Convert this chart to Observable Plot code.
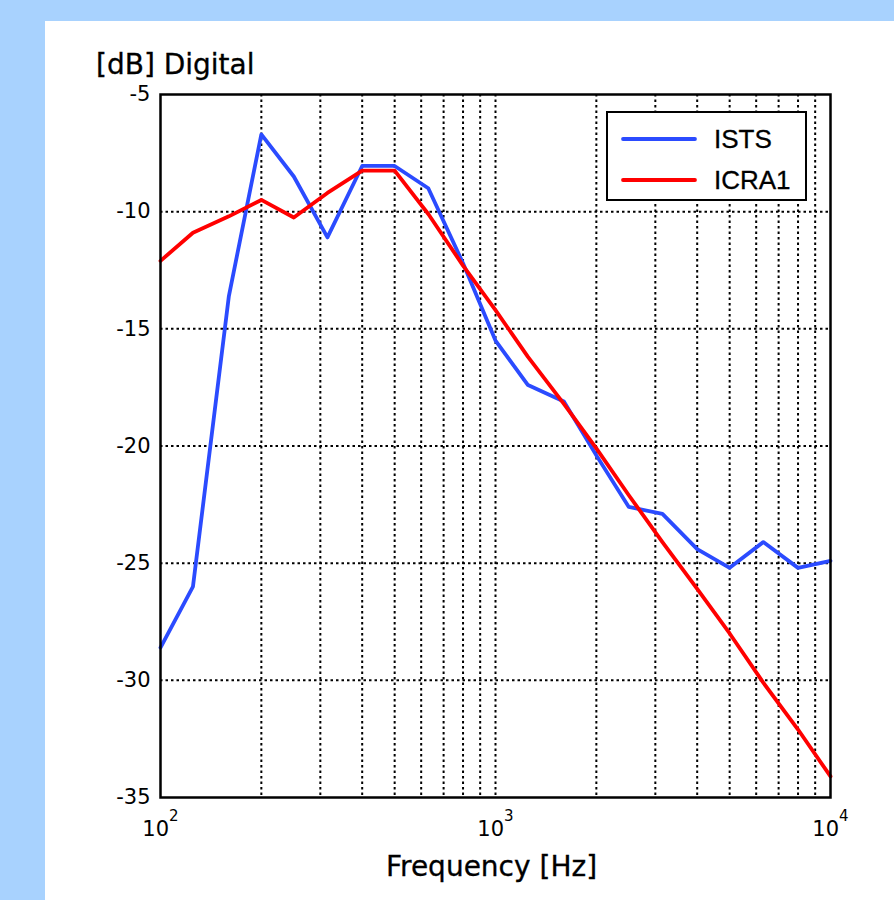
<!DOCTYPE html>
<html>
<head>
<meta charset="utf-8">
<script src="https://cdn.jsdelivr.net/npm/d3@7"></script>
<script src="https://cdn.jsdelivr.net/npm/@observablehq/plot@0.6"></script>
<style>
  html, body { margin: 0; padding: 0; }
  body { width: 894px; height: 900px; overflow: hidden; }
  #wrap { position: relative; width: 894px; height: 900px; background: #a8d2fe; font-family: "DejaVu Sans", sans-serif; }
  #panel { position: absolute; left: 45px; top: 21px; right: 0; bottom: 0; background: #ffffff; }
  #chart { position: absolute; left: 0; top: 0; }
  .lbl { position: absolute; font-size: 28px; line-height: 28px; color: #000; white-space: nowrap; -webkit-text-stroke: 0.3px #000; }
  #title { left: 96px; top: 51px; }
  #xlabel { left: 491.5px; top: 853px; transform: translateX(-50%); }
  #legend { position: absolute; left: 0; top: 0; pointer-events: none; }
</style>
</head>
<body>
<div id="wrap">
  <div id="panel"></div>
  <div id="chart"></div>
  <div class="lbl" id="title">[dB] Digital</div>
  <div class="lbl" id="xlabel">Frequency [Hz]</div>
</div>
<script>
// ---- data ----
const freqs = [100,125,160,200,250,315,400,500,630,800,1000,1250,1600,2000,2500,3150,4000,5000,6300,8000,10000];
const ists  = [-28.6,-26.0,-13.6,-6.7,-8.5,-11.1,-8.05,-8.05,-9.0,-12.2,-15.5,-17.4,-18.1,-20.4,-22.6,-22.9,-24.4,-25.2,-24.1,-25.2,-24.9];
const icra1 = [-12.1,-10.9,-10.2,-9.5,-10.25,-9.2,-8.25,-8.25,-10.1,-12.3,-14.2,-16.2,-18.2,-20.1,-22.1,-24.1,-26.1,-28.0,-30.1,-32.1,-34.1];
const seriesNames = ["ISTS", "ICRA1"];
const seriesColors = ["#2b4bff", "#ff0000"];
const xMajorTicks = [100, 1000, 10000];
const xGridTicks = [200,300,400,500,600,700,800,900,1000,2000,3000,4000,5000,6000,7000,8000,9000];
const yTicks = [-35,-30,-25,-20,-15,-10,-5];
const yGridTicks = [-30,-25,-20,-15,-10];

const rows = [];
[ists, icra1].forEach((vals, si) => {
  vals.forEach((v, i) => rows.push({series: seriesNames[si], freq: freqs[i], value: v}));
});

const supMap = {"2":"²","3":"³","4":"⁴"};

const chart = Plot.plot({
  width: 894,
  height: 900,
  marginLeft: 160,
  marginRight: 64,
  marginTop: 94,
  marginBottom: 103,
  x: {type: "log", domain: [100, 10000], axis: null, label: null},
  y: {domain: [-35, -5], axis: null, label: null},
  color: {domain: seriesNames, range: seriesColors},
  style: {background: "transparent", fontFamily: "DejaVu Sans", color: "black", overflow: "visible"},
  marks: [
    Plot.ruleX(xGridTicks, {stroke: "black", strokeWidth: 2, strokeDasharray: "2.5,3"}),
    Plot.ruleY(yGridTicks, {stroke: "black", strokeWidth: 2, strokeDasharray: "2.5,3"}),
    Plot.line(rows, {x: "freq", y: "value", stroke: "series", z: "series", strokeWidth: 3.8, strokeLinejoin: "round"}),
    Plot.frame({stroke: "black", strokeWidth: 2.5}),
    Plot.axisY(yTicks, {label: null, tickSize: 0, tickPadding: 10, fontSize: 21, stroke: "black", strokeWidth: 0.3, tickFormat: d => String(d)}),
    Plot.axisX(xMajorTicks, {label: null, tickSize: 0, tickPadding: 24, fontSize: 21, stroke: "black", strokeWidth: 0.3, tickFormat: d => "10" + supMap[String(Math.round(Math.log10(d)))]})
  ]
});
document.getElementById("chart").appendChild(chart);

// render superscripts as raised smaller digits
const inv = {"²":"2","³":"3","⁴":"4"};
d3.select(chart).selectAll('g[aria-label="x-axis tick label"] text').each(function() {
  const t = this.textContent;
  const last = t.slice(-1);
  if (inv[last]) {
    const sel = d3.select(this);
    sel.text(t.slice(0, -1));
    sel.append("tspan").attr("dy", "-15").attr("font-size", "15").text(inv[last]);
  }
});

// ---- legend ----
const leg = d3.select("#wrap").append("svg")
  .attr("id", "legend").attr("width", 894).attr("height", 900);
leg.append("rect").attr("x", 607).attr("y", 112).attr("width", 199).attr("height", 88)
  .attr("fill", "white").attr("stroke", "black").attr("stroke-width", 2);
const legY = [139, 180];
seriesNames.forEach((name, i) => {
  leg.append("line").attr("x1", 623).attr("x2", 695).attr("y1", legY[i]).attr("y2", legY[i])
    .attr("stroke", seriesColors[i]).attr("stroke-width", 3.8).attr("stroke-linecap", "round");
  leg.append("text").attr("x", 714).attr("y", legY[i] + 9)
    .attr("font-family", "Liberation Sans, Arial, sans-serif").attr("font-size", 26)
    .attr("fill", "black").attr("stroke", "black").attr("stroke-width", 0.3).text(name);
});
</script>
</body>
</html>
